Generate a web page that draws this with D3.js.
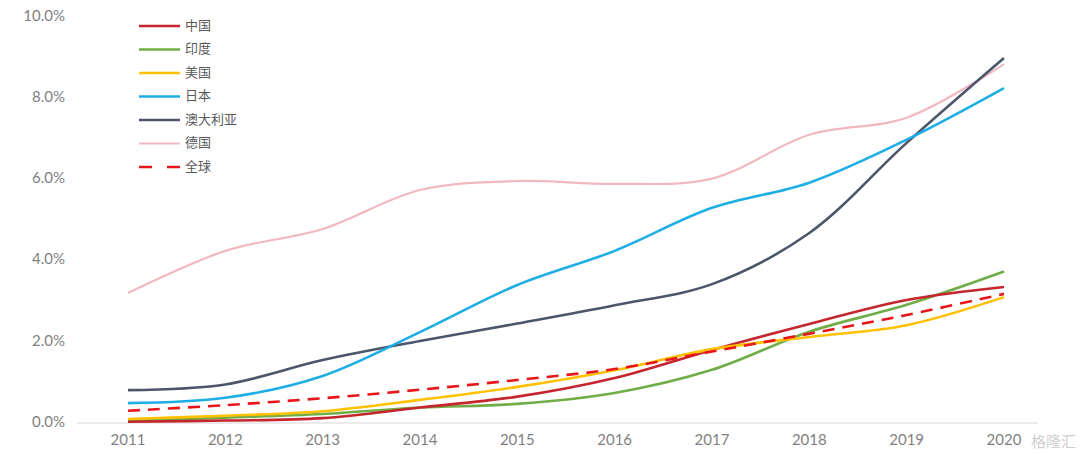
<!DOCTYPE html>
<html>
<head>
<meta charset="utf-8">
<script src="https://cdn.jsdelivr.net/npm/d3@7"></script>
<style>
  body { margin: 0; background: #fff; }
  svg { display: block; }
  .tick-label { font-family: Lato, "Open Sans", sans-serif; font-size: 15px; fill: #7f7f7f; }
  .legend-text { font-family: "Noto Sans CJK SC", sans-serif; font-size: 13px; fill: #595959; }
</style>
</head>
<body>
<svg id="chart" width="1080" height="461"></svg>
<script>
const years = ["2011", "2012", "2013", "2014", "2015", "2016", "2017", "2018", "2019", "2020"];
const yTicks = [0, 2, 4, 6, 8, 10];

const china     = [0.03, 0.06, 0.12, 0.38, 0.65, 1.11, 1.80, 2.44, 3.03, 3.35];
const india     = [0.05, 0.13, 0.22, 0.38, 0.47, 0.74, 1.31, 2.25, 2.91, 3.73];
const usa       = [0.10, 0.18, 0.29, 0.57, 0.89, 1.30, 1.82, 2.12, 2.41, 3.10];
const japan     = [0.49, 0.62, 1.16, 2.24, 3.40, 4.24, 5.30, 5.92, 6.98, 8.25];
const australia = [0.81, 0.95, 1.55, 2.02, 2.45, 2.90, 3.42, 4.68, 6.90, 8.99];
const germany   = [3.20, 4.24, 4.78, 5.74, 5.96, 5.89, 6.02, 7.10, 7.52, 8.84];
const world     = [0.30, 0.44, 0.61, 0.82, 1.06, 1.33, 1.76, 2.20, 2.66, 3.18];

const seriesNames = ["中国", "印度", "美国", "日本", "澳大利亚", "德国", "全球"];
const seriesValues = [china, india, usa, japan, australia, germany, world];
const seriesColors = ["#C5252C", "#70AD47", "#FFC000", "#1EAEE6", "#4B566B", "#F2B8BF", "#E8161A"];

const svg = d3.select("#chart");

const x = d3.scalePoint().domain(years).range([128, 1004]);
const y = d3.scaleLinear().domain([0, 10]).range([423, 17]);

// baseline
svg.append("line")
    .attr("x1", 77).attr("x2", 1038)
    .attr("y1", y(0)).attr("y2", y(0))
    .attr("stroke", "#e3e3e3")
    .attr("stroke-width", 1.5);

// y tick labels
svg.selectAll(".ylab")
    .data(yTicks)
    .enter()
    .append("text")
    .attr("class", "tick-label")
    .attr("x", 65)
    .attr("y", d => y(d))
    .attr("text-anchor", "end")
    .attr("dominant-baseline", "middle")
    .text(d => d.toFixed(1) + "%");

// x tick labels
svg.selectAll(".xlab")
    .data(years)
    .enter()
    .append("text")
    .attr("class", "tick-label")
    .attr("x", d => x(d))
    .attr("y", 441)
    .attr("text-anchor", "middle")
    .attr("dominant-baseline", "middle")
    .text(d => d);

const line = d3.line()
    .x((d, i) => x(years[i]))
    .y(d => y(d))
    .curve(d3.curveCatmullRom.alpha(0.5));

// draw series (germany first so it sits behind)
const order = [5, 4, 3, 1, 0, 2, 6];
order.forEach(i => {
    svg.append("path")
        .attr("d", line(seriesValues[i]))
        .attr("fill", "none")
        .attr("stroke", seriesColors[i])
        .attr("stroke-width", i === 5 ? 2.2 : 2.6)
        .attr("stroke-dasharray", i === 6 ? "12,8" : null)
        .attr("stroke-linecap", "butt");
});

// legend
const legend = svg.selectAll(".legend")
    .data(seriesNames)
    .enter()
    .append("g")
    .attr("transform", (d, i) => `translate(139, ${26 + i * 23.5})`);

legend.append("line")
    .attr("x1", 0).attr("x2", 41)
    .attr("stroke", (d, i) => seriesColors[i])
    .attr("stroke-width", (d, i) => i === 5 ? 2.2 : 2.6)
    .attr("stroke-dasharray", (d, i) => i === 6 ? "13,15" : null);

legend.append("text")
    .attr("class", "legend-text")
    .attr("x", 46)
    .attr("dominant-baseline", "middle")
    .text(d => d);

// watermark
svg.append("text")
    .attr("x", 1076)
    .attr("y", 443)
    .attr("text-anchor", "end")
    .attr("dominant-baseline", "middle")
    .attr("font-family", "Noto Sans CJK SC, sans-serif")
    .attr("font-size", 15)
    .attr("fill", "#d0d0d0")
    .text("格隆汇");
</script>
</body>
</html>
